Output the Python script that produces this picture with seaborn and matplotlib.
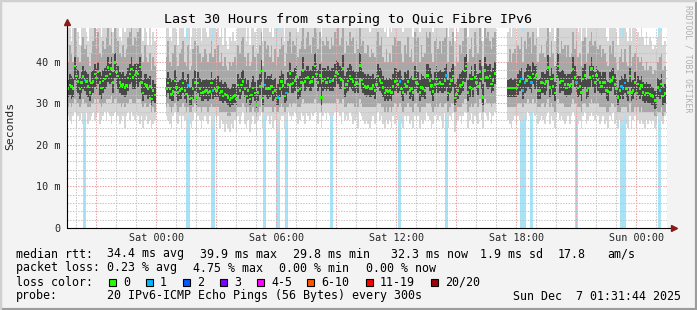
import numpy as np
import pandas as pd
import matplotlib
matplotlib.use("Agg")
import matplotlib.pyplot as plt
import matplotlib.dates as mdates
from matplotlib.patches import Rectangle
from matplotlib.lines import Line2D
import seaborn as sns

# ---------------- data (5-minute samples, Fri 19:35 .. Sun 01:25) ----------------
GAP1 = 6   # missing samples Fri 23:00-23:25
GAP2 = 7   # missing samples Sat 16:00-16:30

med_s1 = [33.4,34.4,34.0,33.4,39.0,36.6,35.2,33.4,35.0,36.4,
          35.6,35.2,34.0,32.6,34.8,35.2,37.0,36.0,37.5,35.0,
          33.6,35.4,35.8,36.6,38.6,37.0,38.3,35.0,39.8,37.5,
          36.6,35.0,34.2,34.5,33.8,34.2,36.0,37.0,38.2,36.2,
          36.8,37.4,37.0,38.7,35.0,32.5,34.6,34.2,33.5,34.0,
          31.0,33.0,32.0]
med_s2 = [33.5,34.8,33.5,32.2,32.8,35.4,33.8,32.6,33.0,33.4,
          34.8,33.0,32.2,34.2,31.0,31.2,33.4,35.0,31.4,34.8,
          33.5,32.4,32.6,32.8,33.0,32.6,32.8,34.8,33.0,33.4,
          33.0,33.8,32.4,32.8,31.7,32.2,32.0,31.4,30.8,31.2,
          31.5,31.8,31.0,34.4,33.0,34.4,35.2,33.5,31.7,33.0,
          31.0,32.0,33.6,32.5,29.8,32.6,34.0,37.8,31.2,34.4,
          33.5,33.4,33.5,34.0,32.6,33.0,31.2,31.4,33.5,35.2,
          34.2,31.7,32.4,34.5,37.2,34.6,34.8,35.5,36.3,33.0,
          33.4,35.0,37.9,35.2,36.0,36.2,35.0,35.2,36.3,39.0,
          37.0,35.0,36.7,31.4,35.4,35.8,35.0,36.0,35.2,35.4,
          35.5,36.6,37.4,37.0,36.0,35.6,38.3,33.6,34.5,35.4,
          36.6,35.8,35.2,34.4,35.0,34.6,39.1,35.6,34.6,34.0,
          33.8,34.1,33.4,33.5,34.2,33.0,34.5,36.6,35.5,34.8,
          33.8,32.5,33.0,32.8,33.0,32.6,34.0,35.2,35.4,34.5,
          35.2,33.4,32.6,34.6,34.0,35.2,33.0,33.5,32.6,35.8,
          35.0,34.6,32.6,33.8,33.5,33.0,36.7,36.7,35.5,34.2,
          32.8,34.5,35.8,34.6,35.0,34.6,34.6,35.5,36.7,32.5,
          34.6,35.5,36.6,31.2,32.2,33.0,34.2,34.4,35.0,37.8,
          39.0,32.6,33.8,35.8,33.4,36.2,35.0,34.0,37.5,35.8,
          31.4,37.9,36.2,36.0,36.6,34.6,35.5,37.2]
med_s3 = [33.6,33.6,33.6,33.6,33.6,33.6,34.4,35.2,35.8,33.0,
          35.0,35.5,36.6,36.2,35.0,37.0,36.0,36.7,33.0,33.0,
          35.0,34.8,34.6,35.2,38.6,33.8,35.8,34.0,32.5,36.6,
          39.0,35.0,35.4,35.4,34.5,33.7,34.5,34.2,34.6,38.2,
          36.2,35.0,33.6,34.0,32.6,35.8,36.7,33.0,33.6,36.2,
          38.3,36.5,35.0,36.7,35.6,35.0,34.0,35.0,35.0,33.0,
          32.8,35.2,35.5,36.2,34.5,33.4,31.4,33.0,34.0,33.4,
          34.8,33.5,32.6,36.6,32.6,33.0,35.0,32.5,34.6,33.5,
          34.2,32.6,32.0,32.5,32.5,32.2,31.8,31.5,30.6,30.6,
          33.8,33.0,34.6,31.7,32.3]

# smoke: inner (dark) band lo3..hi3, middle band lo2..hi2, outer band lo1..hi1
lo3_s1 = [31.5,32.0,31.0,31.5,35.5,33.0,32.5,31.0,32.5,33.5,
          33.0,32.0,31.5,30.5,32.0,32.5,34.0,33.5,34.5,32.0,
          31.0,32.5,33.5,34.0,35.0,34.5,35.0,32.5,36.0,34.5,
          33.5,32.5,32.0,32.0,31.5,32.0,33.0,34.5,35.0,33.5,
          33.5,34.5,34.0,35.0,32.5,30.5,32.0,32.0,31.0,31.5,
          29.5,30.5,30.0]
hi3_s1 = [35.5,37.0,36.5,36.0,41.0,39.0,38.0,36.0,37.5,39.0,
          38.0,37.5,37.0,35.0,37.5,38.0,39.5,38.5,40.0,37.5,
          36.5,38.0,38.5,39.0,41.0,39.5,41.0,37.5,42.0,40.0,
          39.0,37.5,37.0,37.5,36.5,37.0,38.5,39.5,41.0,39.0,
          39.5,40.0,39.5,41.0,38.0,35.5,37.0,37.0,36.0,36.5,
          33.5,35.5,34.5]
lo2_s1 = [29,30,29,30,31,30,30,29,30,31, 30,30,29,29,30,30,31,30,31,30,
          29,30,30,31,31,31,32,30,31,31, 30,30,29,30,29,30,30,31,31,30,
          30,31,31,31,30,29,30,29,29,30, 28,29,28]
hi2_s1 = [40,44,42,40,48,45,41,40,44,46, 43,44,41,39,42,45,48,43,47,42,
          41,45,43,46,49,44,47,42,49,46, 45,42,41,44,41,43,46,47,48,44,
          46,45,47,48,42,40,44,41,40,42, 38,41,39]
lo1_s1 = [27,26,25,27,28,24,27,26,28,25, 27,28,25,26,27,28,26,27,28,25,
          26,27,28,26,28,27,25,27,28,26, 27,25,26,27,24,27,28,26,28,27,
          26,28,27,25,27,24,26,27,25,26, 24,25,26]
hi1_s1 = [50,55,45,49,58,52,47,44,53,56, 51,47,45,49,53,55,58,46,57,50,
          46,53,49,56,58,48,55,47,59,53, 52,46,45,50,47,52,55,49,57,51,
          54,56,48,57,49,45,51,47,44,48, 44,47,45]

lo3_s2 = [31.5,32.5,31.0,30.5,30.5,33.0,31.5,30.5,31.0,31.0,
          32.5,31.0,30.0,32.0,29.5,29.5,31.0,33.0,29.5,32.5,
          31.5,30.5,30.5,31.0,31.0,30.5,31.0,32.5,31.0,31.5,
          31.0,31.5,30.5,30.5,30.0,30.5,30.0,29.5,29.0,29.5,
          29.5,30.0,29.5,32.0,31.0,32.0,33.0,31.5,30.0,31.0,
          29.5,30.0,31.5,30.5,28.5,30.5,32.0,35.0,29.5,32.0,
          31.5,31.0,31.5,32.0,30.5,31.0,29.5,29.5,31.5,33.0,
          32.0,30.0,30.5,32.5,34.5,32.5,32.5,33.0,34.0,31.0,
          31.5,33.0,35.0,33.0,33.5,34.0,33.0,33.0,34.0,36.0,
          34.5,33.0,34.0,29.5,33.0,33.5,33.0,33.5,33.0,33.0,
          33.0,34.0,35.0,34.5,33.5,33.5,35.5,31.5,32.5,33.0,
          34.0,33.5,33.0,32.5,33.0,32.5,36.0,33.5,32.5,32.0,
          31.5,32.0,31.5,31.5,32.0,31.0,32.5,34.0,33.0,32.5,
          31.5,30.5,31.0,30.5,31.0,30.5,32.0,33.0,33.0,32.5,
          33.0,31.5,30.5,32.5,32.0,33.0,31.0,31.5,30.5,33.5,
          33.0,32.5,30.5,31.5,31.5,31.0,34.0,34.0,33.0,32.0,
          30.5,32.5,33.5,32.5,33.0,32.5,32.5,33.0,34.0,30.5,
          32.5,33.0,34.0,29.5,30.0,31.0,32.0,32.5,33.0,35.0,
          36.0,30.5,31.5,33.5,31.5,34.0,33.0,32.0,35.0,33.5,
          29.5,35.0,34.0,33.5,34.0,32.5,33.0,34.5]
hi3_s2 = [36.0,37.5,36.0,35.0,35.5,38.0,36.5,35.0,35.5,36.0,
          37.5,35.5,35.0,37.0,34.0,34.0,36.0,38.0,34.0,37.5,
          36.0,35.0,35.5,35.5,36.0,35.5,35.5,37.5,35.5,36.0,
          35.5,36.5,35.0,35.5,34.5,35.0,34.5,34.0,33.5,34.0,
          34.5,34.5,34.0,37.0,36.0,37.5,38.0,36.0,34.5,35.5,
          34.0,35.0,36.5,35.0,33.0,35.5,37.0,40.5,34.0,37.5,
          36.0,36.5,36.5,37.0,35.5,36.0,34.0,34.5,36.5,38.0,
          37.0,34.5,35.5,37.5,40.0,37.5,37.5,38.5,39.0,36.0,
          36.5,38.0,41.0,38.0,39.0,39.0,38.0,38.0,39.0,42.0,
          40.0,38.0,39.5,34.5,38.5,38.5,38.0,39.0,38.0,38.5,
          38.5,39.5,40.5,40.0,39.0,38.5,41.5,36.5,37.5,38.5,
          39.5,39.0,38.0,37.5,38.0,37.5,42.0,38.5,37.5,37.0,
          36.5,37.0,36.5,36.5,37.0,36.0,37.5,39.5,38.5,38.0,
          36.5,35.5,36.0,35.5,36.0,35.5,37.0,38.5,38.5,37.5,
          38.0,36.5,35.5,37.5,37.0,38.0,36.0,36.5,35.5,39.0,
          38.0,37.5,35.5,37.0,36.5,36.0,39.5,39.5,38.5,37.0,
          35.5,37.5,39.0,37.5,38.0,37.5,37.5,38.5,39.5,35.5,
          37.5,38.5,39.5,34.5,35.0,36.0,37.0,37.5,38.0,41.0,
          42.0,35.5,37.0,39.0,36.5,39.5,38.0,37.0,40.5,39.0,
          34.5,41.0,39.5,39.0,39.5,37.5,38.5,40.0]
lo2_s2 = [29,30,29,28,29,30,29,28,29,29, 30,29,28,29,28,28,29,30,28,29,
          29,28,29,29,29,28,29,30,29,29, 29,29,28,28,28,28,28,27,27,28,
          28,28,27,29,29,29,30,29,28,29, 28,28,29,28,27,28,29,31,28,29,
          29,29,29,29,28,29,28,28,29,30, 29,28,29,29,30,29,30,30,30,29,
          29,30,31,30,30,30,30,30,30,31, 30,30,30,28,30,30,30,30,30,30,
          30,30,31,31,30,30,31,29,29,30, 30,30,30,29,30,29,31,30,29,29,
          29,29,29,29,29,29,29,30,30,29, 29,28,29,28,29,28,29,30,30,29,
          30,29,28,29,29,30,29,29,28,30, 30,29,28,29,29,29,30,30,30,29,
          28,29,30,29,30,29,29,30,30,28, 29,30,30,28,28,29,29,29,30,31,
          31,28,29,30,29,30,30,29,31,30, 28,31,30,30,30,29,30,30]
hi2_s2 = [41,45,40,39,42,44,41,39,42,43, 45,40,39,44,38,39,43,45,38,44,
          42,40,41,43,42,40,42,45,41,43, 40,44,40,42,39,41,39,38,40,39,
          40,41,39,44,42,45,46,41,39,42, 39,40,44,41,38,42,44,47,39,45,
          43,44,41,44,40,43,39,41,43,46, 44,39,42,45,47,42,45,44,46,41,
          43,45,48,43,46,47,44,42,46,49, 47,43,47,40,45,44,46,45,43,46,
          44,47,46,48,44,46,49,42,45,44, 47,45,46,42,45,43,49,44,45,42,
          42,44,41,43,42,41,45,47,44,46, 41,40,43,40,42,40,44,46,44,45,
          45,42,40,44,42,46,41,43,40,47, 45,46,40,44,41,42,47,46,47,42,
          40,45,46,43,45,42,45,46,48,40, 45,44,47,39,41,40,44,42,45,48,
          49,40,43,46,41,47,44,42,48,45, 39,48,46,47,45,43,46,47]
lo1_s2 = [27,26,25,24,27,28,26,25,27,24, 27,26,23,27,25,24,26,28,23,27,
          26,24,26,27,26,25,27,26,24,27, 26,27,24,26,25,23,25,24,23,25,
          24,26,23,27,25,27,28,25,24,26, 23,25,27,25,22,26,27,28,24,27,
          26,27,25,27,24,26,25,23,26,27, 27,24,26,28,27,26,27,28,27,25,
          26,28,27,25,28,27,26,28,27,28, 28,25,28,24,27,28,26,28,27,25,
          27,28,26,28,27,25,28,26,27,26, 28,27,25,26,27,24,28,27,26,25,
          26,25,24,26,27,25,26,28,26,27, 25,24,26,25,26,24,27,25,28,26,
          27,25,24,27,26,27,25,26,24,27, 26,27,24,26,25,26,28,27,26,24,
          25,27,28,26,27,26,24,28,27,24, 27,26,28,23,25,26,27,25,27,28,
          28,24,26,28,25,27,26,25,28,26, 24,28,27,26,28,25,27,28]
hi1_s2 = [49,55,46,45,50,53,47,44,49,52, 54,46,45,52,43,46,50,55,44,51,
          48,45,50,52,47,46,49,54,45,51, 47,52,46,49,44,48,45,43,46,45,
          47,45,44,52,49,55,57,48,45,49, 44,48,52,47,43,49,51,58,45,53,
          50,52,47,53,46,50,44,47,51,55, 50,45,49,53,57,50,54,52,56,47,
          51,54,58,50,55,57,52,48,56,59, 55,52,57,46,54,52,55,53,50,56,
          53,57,55,58,52,56,59,49,53,52, 56,53,55,50,54,51,59,52,53,50,
          49,52,47,51,50,48,53,56,52,54, 48,47,50,46,51,47,52,54,51,53,
          54,49,47,53,50,55,48,51,46,56, 52,54,47,52,49,50,56,54,55,50,
          47,53,55,51,54,50,53,55,57,46, 53,51,56,45,48,47,52,50,54,58,
          59,46,51,55,48,56,52,50,58,53, 45,58,54,56,53,51,55,57]

lo3_s3 = [31.5,31.5,31.5,31.5,31.5,31.5,32.0,33.0,33.5,31.0,
          32.5,33.0,34.0,33.5,32.5,34.5,33.5,34.0,31.0,31.0,
          32.5,32.5,32.0,33.0,35.5,31.5,33.5,32.0,30.5,34.0,
          36.0,32.5,33.0,33.0,32.0,31.5,32.0,32.0,32.5,35.5,
          34.0,32.5,31.5,32.0,30.5,33.5,34.0,31.0,31.5,34.0,
          35.5,34.0,32.5,34.0,33.0,32.5,32.0,32.5,32.5,31.0,
          30.5,33.0,33.0,34.0,32.0,31.0,29.5,31.0,32.0,31.0,
          32.5,31.5,30.5,34.0,30.5,31.0,32.5,30.5,32.0,31.0,
          32.0,30.5,30.0,30.5,30.0,30.0,29.5,29.5,28.5,28.5,
          31.5,31.0,32.0,29.5,30.0]
hi3_s3 = [35.5,36.0,36.0,35.5,36.0,36.0,37.0,38.0,38.5,35.5,
          37.5,38.5,39.5,39.0,37.5,40.0,39.0,39.5,35.5,36.0,
          37.5,37.5,37.0,38.0,41.5,36.5,38.5,37.0,35.0,39.5,
          42.0,37.5,38.0,38.0,37.0,36.5,37.0,37.0,37.5,41.0,
          39.0,37.5,36.5,36.5,35.0,38.5,39.5,35.5,36.0,39.0,
          41.0,39.0,37.5,39.0,38.0,37.5,36.5,37.5,37.5,35.5,
          35.0,37.5,38.0,38.5,37.0,36.0,34.0,35.5,36.5,36.0,
          37.0,36.0,35.0,38.5,35.0,35.5,37.5,35.0,36.5,35.5,
          36.5,35.0,34.5,35.0,34.5,34.5,34.0,34.0,33.0,33.0,
          36.0,35.5,37.0,34.0,34.5]
lo2_s3 = [29,29,29,29,29,29,30,30,30,29, 30,30,31,30,30,31,30,31,29,29,
          30,30,29,30,31,29,30,29,28,30, 31,30,30,30,29,29,29,29,30,31,
          30,30,29,29,28,30,30,29,29,30, 31,30,30,30,30,29,29,29,29,28,
          28,29,30,30,29,29,28,28,29,29, 29,29,28,30,28,28,29,28,29,28,
          29,28,28,28,28,28,28,28,27,27, 28,28,29,27,28]
hi2_s3 = [40,43,40,42,43,40,44,43,46,40, 45,43,47,46,42,47,44,46,40,42,
          44,42,41,45,48,41,45,42,39,46, 48,42,45,43,44,41,44,41,42,47,
          43,45,41,42,39,45,46,40,42,45, 47,44,45,44,43,44,41,43,42,40,
          39,44,42,45,41,40,38,41,43,40, 43,40,39,44,39,41,42,38,41,40,
          41,39,38,40,38,39,39,37,38,38, 40,41,42,38,39]
lo1_s3 = [26,25,24,26,27,25,27,26,28,25, 27,26,28,27,26,28,27,28,25,26,
          27,26,25,27,28,25,27,26,24,27, 28,26,27,26,25,26,27,25,27,28,
          27,26,25,26,24,27,28,25,26,27, 28,27,26,28,27,25,26,27,25,26,
          24,27,26,28,25,26,24,26,27,25, 27,25,24,27,24,26,27,24,26,25,
          26,25,24,26,25,26,25,26,24,25, 27,25,26,25,27]
hi1_s3 = [47,51,46,50,52,45,53,51,56,47, 54,52,57,55,50,58,53,56,46,49,
          53,50,48,54,59,47,54,49,45,56, 59,50,54,51,52,48,53,49,51,57,
          52,54,47,50,45,54,56,46,49,55, 57,52,54,53,51,52,48,51,49,46,
          45,52,50,54,49,47,44,48,51,46, 51,47,45,53,45,48,49,44,47,46,
          48,46,44,47,44,46,45,43,44,43, 46,47,49,44,45]

# samples (index from Fri 19:35) that lost 1 of 20 pings
loss_idx = [10, 72, 87, 118, 126, 131, 158, 199, 227, 272, 273, 274,
            278, 305, 332, 333, 334, 355]

stats_rtt = ["34.4 ms avg", "39.9 ms max", "29.8 ms min", "32.3 ms now",
             "1.9 ms sd", "17.8", "am/s"]
stats_loss = ["0.23 % avg", "4.75 % max", "0.00 % min", "0.00 % now"]
loss_labels = ["0", "1", "2", "3", "4-5", "6-10", "11-19", "20/20"]
loss_colors = ["#26ff00", "#00b8ff", "#0059ff", "#7e00ff", "#ff00ff",
               "#ff5500", "#ff0000", "#a00000"]
tick_labels = ["Sat 00:00", "Sat 06:00", "Sat 12:00", "Sat 18:00", "Sun 00:00"]

# ---------------- assemble ----------------
def full(a, b, c):
    return np.array(list(a) + [np.nan] * GAP1 + list(b) + [np.nan] * GAP2 + list(c), float)

med = full(med_s1, med_s2, med_s3)
lo1 = full(lo1_s1, lo1_s2, lo1_s3); hi1 = full(hi1_s1, hi1_s2, hi1_s3)
lo2 = full(lo2_s1, lo2_s2, lo2_s3); hi2 = full(hi2_s1, hi2_s2, hi2_s3)
lo3 = full(lo3_s1, lo3_s2, lo3_s3); hi3 = full(hi3_s1, hi3_s2, hi3_s3)
n = len(med)
times = pd.date_range("2025-12-05 19:35", periods=n, freq="5min")
x = mdates.date2num(times)
loss = np.zeros(n, int)
loss[loss_idx] = 1

t_start = mdates.date2num(pd.Timestamp("2025-12-05 19:31:44"))
t_end = mdates.date2num(pd.Timestamp("2025-12-07 01:31:44"))
YTOP = 48.08
step = 5 / 1440.0

# ---------------- figure ----------------
sns.set_style("white")
plt.rcParams["font.family"] = ["DejaVu Sans Mono", "DejaVu Sans"]
W, H = 697, 310
fig = plt.figure(figsize=(W / 100, H / 100), dpi=100)
fig.patch.set_facecolor("#f3f3f3")

def fx(px):
    return px / W

def fy(py):
    return 1 - py / H

ax = fig.add_axes([fx(67), fy(228), 600 / W, 200 / H])
ax.set_facecolor("white")
ax.set_xlim(t_start, t_end)
ax.set_ylim(0, YTOP)
for s in ax.spines.values():
    s.set_visible(False)

# loss bars
lx = x[loss > 0]
ax.bar(lx, YTOP, bottom=0, width=2 * step, color="#a6e3f7", linewidth=0, zorder=1)

# smoke
ok = ~np.isnan(med)
for lo, hi, col, z in [(lo1, hi1, "#d6d6d6", 2), (lo2, hi2, "#a8a8a8", 3), (lo3, hi3, "#484848", 4)]:
    ax.bar(x[ok], (np.minimum(hi, YTOP + 1) - lo)[ok], bottom=lo[ok], width=step,
           color=col, linewidth=0, zorder=z)

# grid
hours = pd.date_range("2025-12-05 20:00", "2025-12-07 01:00", freq="1h")
for h in hours:
    red = h.hour % 3 == 0
    ax.axvline(mdates.date2num(h), color="#e8a0a0" if red else "#c4c4c4",
               lw=0.75, ls=(0, (1.3, 1.3)), zorder=5)
for v in np.arange(2, 48, 2):
    red = v % 10 == 0
    ax.axhline(v, color="#e8a0a0" if red else "#c4c4c4", lw=0.75,
               ls=(0, (1.3, 1.3)), zorder=5)

# median
df = pd.DataFrame({"t": x, "median": med,
                   "loss": np.where(loss > 0, "1", "0")}).dropna()
sns.scatterplot(data=df, x="t", y="median", hue="loss",
                palette={"0": loss_colors[0], "1": loss_colors[1]},
                marker="s", s=3.2, linewidth=0, legend=False, ax=ax, zorder=6)
ax.set_xlabel("")
ax.set_ylabel("")

# ticks
ax.set_yticks([0, 10, 20, 30, 40])
ax.set_yticklabels(["0", "10 m", "20 m", "30 m", "40 m"], fontsize=7.3)
tick_pos = mdates.date2num(pd.date_range("2025-12-06 00:00", periods=5, freq="6h"))
ax.set_xticks(tick_pos)
ax.set_xticklabels(tick_labels, fontsize=7.3)
ax.tick_params(axis="both", length=0)
ax.tick_params(axis="y", pad=5)
ax.tick_params(axis="x", pad=3.5)

# axes lines with arrows
ax.add_line(Line2D([0, 0], [0, 1.02], transform=ax.transAxes, color="black",
                   lw=0.8, clip_on=False, zorder=7))
ax.add_line(Line2D([0, 1.008], [0, 0], transform=ax.transAxes, color="black",
                   lw=0.8, clip_on=False, zorder=7))
ax.plot([0], [1.03], marker="^", color="#8b1a1a", markersize=4.5,
        transform=ax.transAxes, clip_on=False, zorder=8)
ax.plot([1.012], [0], marker=">", color="#8b1a1a", markersize=4.5,
        transform=ax.transAxes, clip_on=False, zorder=8)

# title and side texts
fig.text(0.5, fy(19), "Last 30 Hours from starping to Quic Fibre IPv6",
         ha="center", va="center", fontsize=9.6, color="black")
fig.text(fx(10), fy(126), "Seconds", rotation=90, ha="center", va="center",
         fontsize=8.2)
fig.text(fx(688), fy(59), "RRDTOOL / TOBI OETIKER", rotation=270,
         ha="center", va="center", fontsize=5.9, color="#b0b0b0")

# legend
FS = 8.4
def txt(px, py, s):
    fig.text(fx(px), fy(py), s, ha="left", va="center", fontsize=FS, color="black")

txt(16, 254, "median rtt:")
for px, s in zip([107, 200, 293, 391, 480, 558, 607], stats_rtt):
    txt(px, 254, s)
txt(16, 268, "packet loss:")
for px, s in zip([107, 193, 279, 366], stats_loss):
    txt(px, 268, s)
txt(16, 282, "loss color:")
sq_x = [109, 146, 183, 220, 257, 307, 366, 431]
for px, lab, col in zip(sq_x, loss_labels, loss_colors):
    fig.patches.append(Rectangle((fx(px), fy(286)), 7 / W, 7 / H, transform=fig.transFigure,
                                 facecolor=col, edgecolor="black", linewidth=0.8))
    txt(px + 14, 282, lab)
txt(16, 296, "probe:")
txt(107, 296, "20 IPv6-ICMP Echo Pings (56 Bytes) every 300s")
txt(513, 296, "Sun Dec  7 01:31:44 2025")

# 3D frame
fig.patches.append(Rectangle((0, 0), 1, 1, transform=fig.transFigure, fill=False,
                             edgecolor="#9c9c9c", linewidth=3))
fig.add_artist(Line2D([fx(1), fx(1)], [0, 1], transform=fig.transFigure, color="#d0d0d0", lw=1.5))
fig.add_artist(Line2D([0, 1], [fy(1), fy(1)], transform=fig.transFigure, color="#d0d0d0", lw=1.5))

fig.savefig("out.png", dpi=100, facecolor=fig.get_facecolor())
